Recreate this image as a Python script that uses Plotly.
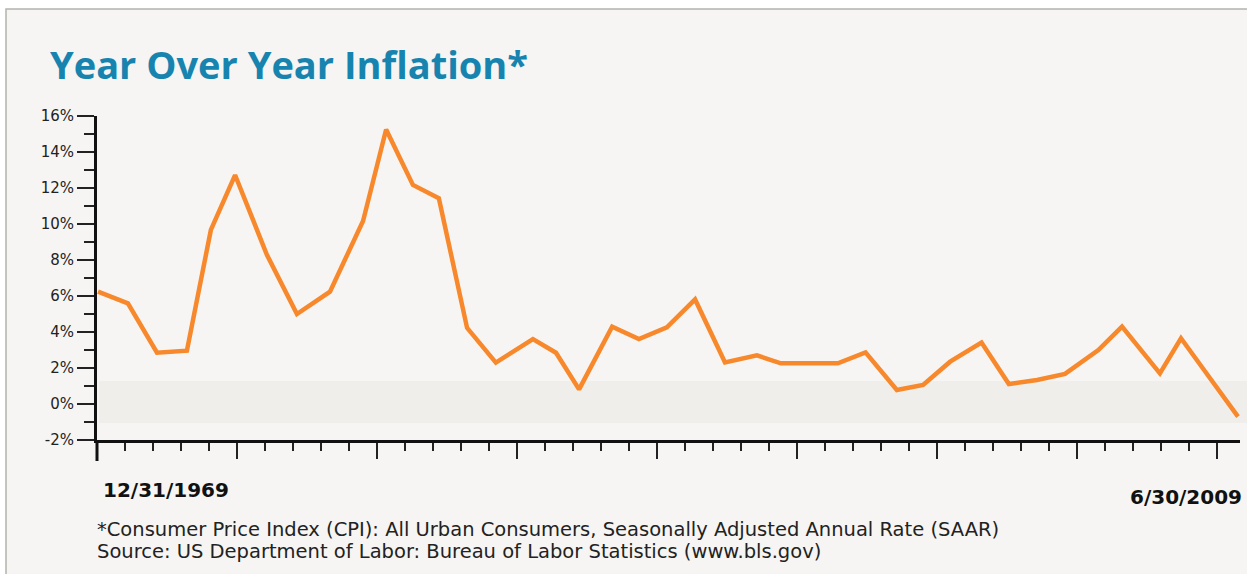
import plotly.graph_objects as go

# ---------------- data ----------------
years = [1969.00, 1970.05, 1971.07, 1972.12, 1972.96, 1973.81, 1974.93, 1975.98,
         1977.14, 1978.30, 1979.11, 1980.05, 1980.96, 1981.95, 1982.96, 1984.26,
         1985.07, 1985.88, 1987.04, 1987.98, 1988.96, 1989.95, 1991.00, 1992.12,
         1992.96, 1994.00, 1994.96, 1995.93, 1997.03, 1997.95, 1998.90, 2000.00,
         2000.96, 2001.95, 2002.93, 2004.10, 2004.93, 2006.26, 2007.00, 2008.00,
         2009.00]
inflation = [6.24, 5.59, 2.85, 2.96, 9.67, 12.72, 8.28, 5.00,
             6.24, 10.17, 15.25, 12.17, 11.43, 4.23, 2.30, 3.61,
             2.85, 0.81, 4.30, 3.61, 4.26, 5.81, 2.31, 2.70,
             2.26, 2.26, 2.26, 2.87, 0.78, 1.06, 2.35, 3.41,
             1.11, 1.33, 1.67, 3.00, 4.30, 1.70, 3.65, 1.47,
             -0.70]
y_tick_values = [-2, 0, 2, 4, 6, 8, 10, 12, 14, 16]
y_tick_labels = ["-2%", "0%", "2%", "4%", "6%", "8%", "10%", "12%", "14%", "16%"]
start_label = "12/31/1969"
end_label = "6/30/2009"
title_text = "Year Over Year Inflation*"
footnotes = ["*Consumer Price Index (CPI): All Urban Consumers, Seasonally Adjusted Annual Rate (SAAR)",
             "Source: US Department of Labor: Bureau of Labor Statistics (www.bls.gov)"]
band_range = [-1.05, 1.28]

# ---------------- layout geometry ----------------
W, H = 1247, 574
L, R, T, B = 97, 7, 116, 134
PW, PH = W - L - R, H - T - B


def px(x):
    return (x - L) / PW


def py(y):
    return (H - B - y) / PH


x_left = 1968.965
x_right = 2009.07
tick_step = 0.98246

TITLE_FONT = "Open Sans"
TEXT_FONT = "DejaVu Sans"
ORANGE = "#f7882b"
BLUE = "#1784b0"

fig = go.Figure()
fig.add_trace(go.Scatter(x=years, y=inflation, mode="lines",
                         line=dict(color=ORANGE, width=4.5),
                         hoverinfo="skip", showlegend=False))

shapes = [
    # outer frame
    dict(type="rect", xref="paper", yref="paper", x0=px(6), x1=px(1262), y0=py(9), y1=py(620),
         fillcolor="#f6f5f3", line=dict(color="#b3b3ad", width=1.5), layer="below"),
    # light band
    dict(type="rect", xref="paper", yref="y", x0=px(99), x1=px(1252),
         y0=band_range[0], y1=band_range[1],
         fillcolor="#efeeea", line=dict(width=0), layer="below"),
    # y axis extension below x axis
    dict(type="line", xref="paper", yref="paper", x0=0, x1=0, y0=0, y1=py(461),
         line=dict(color="#111111", width=3)),
]

annotations = [
    dict(text="<b>" + title_text + "</b>", xref="paper", yref="paper", x=px(48), y=py(64),
         xanchor="left", yanchor="middle", showarrow=False,
         font=dict(family=TITLE_FONT, size=38, color=BLUE)),
    dict(text="<b>" + start_label + "</b>", xref="paper", yref="paper", x=px(101), y=py(490),
         xanchor="left", yanchor="middle", showarrow=False,
         font=dict(family=TEXT_FONT, size=20, color="#111111")),
    dict(text="<b>" + end_label + "</b>", xref="paper", yref="paper", x=px(1244), y=py(497),
         xanchor="right", yanchor="middle", showarrow=False,
         font=dict(family=TEXT_FONT, size=20, color="#111111")),
    dict(text=footnotes[0], xref="paper", yref="paper", x=px(96), y=py(529.5),
         xanchor="left", yanchor="middle", showarrow=False, borderpad=0,
         font=dict(family=TEXT_FONT, size=19.5, color="#222222")),
    dict(text=footnotes[1], xref="paper", yref="paper", x=px(96), y=py(551.5),
         xanchor="left", yanchor="middle", showarrow=False, borderpad=0,
         font=dict(family=TEXT_FONT, size=19.5, color="#222222")),
]

fig.update_layout(
    width=W, height=H,
    margin=dict(l=L, r=R, t=T, b=B, pad=0),
    paper_bgcolor="white",
    plot_bgcolor="rgba(0,0,0,0)",
    shapes=shapes,
    annotations=annotations,
    font=dict(family=TEXT_FONT, color="#222222"),
    xaxis=dict(range=[x_left, x_right], showgrid=False, zeroline=False,
               showline=True, linecolor="#111111", linewidth=3,
               showticklabels=False,
               ticks="outside", tickmode="linear", tick0=x_left, dtick=tick_step * 5,
               ticklen=16, tickwidth=2, tickcolor="#222222",
               minor=dict(ticks="outside", tickmode="linear", tick0=x_left, dtick=tick_step,
                          ticklen=8, tickwidth=2, tickcolor="#222222", showgrid=False)),
    yaxis=dict(range=[-2, 16], showgrid=False, zeroline=False,
               showline=True, linecolor="#111111", linewidth=3,
               tickmode="array", tickvals=y_tick_values, ticktext=y_tick_labels,
               ticks="outside", ticklen=17, tickwidth=2, tickcolor="#222222",
               tickfont=dict(family=TEXT_FONT, size=15, color="#222222"),
               minor=dict(ticks="outside", dtick=1, ticklen=10, tickwidth=2,
                          tickcolor="#222222", showgrid=False)),
)

fig.write_html("out.html", config={"displayModeBar": False},
               post_script="document.body.style.margin='0';")
